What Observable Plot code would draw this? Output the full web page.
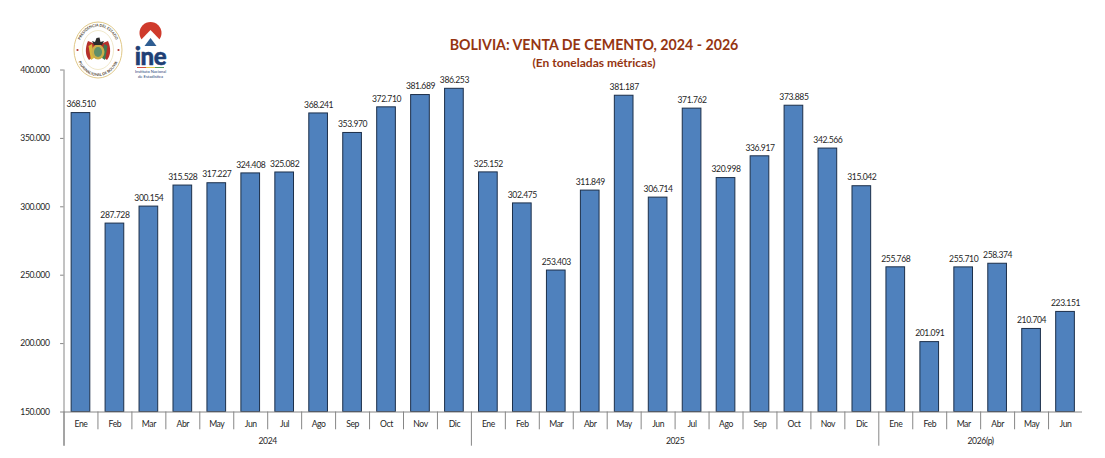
<!DOCTYPE html>
<html lang="es">
<head>
<meta charset="utf-8">
<script src="https://cdn.jsdelivr.net/npm/d3@7"></script>
<script src="https://cdn.jsdelivr.net/npm/@observablehq/plot@0.6"></script>
<style>
html,body{margin:0;padding:0;background:#fff;overflow:hidden}
#wrap{position:relative;width:1105px;height:458px;font-family:Lato,"Open Sans",sans-serif}
#chart svg{display:block}
#chart svg text{letter-spacing:-0.4px}
#title,#subtitle{position:absolute;left:294px;width:600px;text-align:center;color:#953511;font-weight:700;line-height:1;white-space:nowrap}
#title{top:38px;font-size:14.2px}
#subtitle{top:57px;font-size:12px}
#logos{position:absolute;left:0;top:0}
</style>
</head>
<body>
<div id="wrap">
<div id="chart"></div>
<div id="title">BOLIVIA: VENTA DE CEMENTO, 2024 - 2026</div>
<div id="subtitle">(En toneladas métricas)</div>
<svg id="logos" width="200" height="90" viewBox="0 0 200 90">
  <ellipse cx="98" cy="50" rx="24" ry="28" fill="#fff" stroke="#dcc27a" stroke-width="0.9"/>
  <ellipse cx="98" cy="50" rx="15.500" ry="19.500" fill="none" stroke="#e6d8a6" stroke-width="0.6"/>
  <path d="M98 45 L88 41 C85 48 85 55 89 60 L98 53 Z" fill="#b5302a"/>
  <path d="M98 45 L108 41 C111 48 111 55 107 60 L98 53 Z" fill="#b5302a"/>
  <path d="M88.500 46 L91 60 L94 58 L92 44 Z" fill="#d9b83e"/>
  <path d="M107.500 46 L105 60 L102 58 L104 44 Z" fill="#3f7a54"/>
  <ellipse cx="98" cy="52" rx="6.500" ry="7.500" fill="#c9ae4a"/>
  <ellipse cx="98" cy="52" rx="4" ry="5" fill="#5f8f6a"/>
  <path d="M92 41 L95 42 L96.500 38 L99.500 37.500 L100.500 42 L104 41 L102 45 L94 45 Z" fill="#2b2b2b"/>
  <circle cx="77.500" cy="50" r="1.100" fill="#b5332a"/><circle cx="118.500" cy="50" r="1.100" fill="#b5332a"/>
  <path id="arcTop" d="M78.500 50 A19.500 23.500 0 0 1 117.500 50" fill="none"/>
  <path id="arcBot" d="M76 50 A22 26 0 0 0 120 50" fill="none"/>
  <text font-size="3.700" fill="#4d4330" font-family="Lato" font-weight="700"><textPath href="#arcTop" startOffset="50%" text-anchor="middle">PRESIDENCIA DEL ESTADO</textPath></text>
  <text font-size="3.700" fill="#4d4330" font-family="Lato" font-weight="700"><textPath href="#arcBot" startOffset="50%" text-anchor="middle">PLURINACIONAL DE BOLIVIA</textPath></text>
  <circle cx="150.500" cy="33" r="11" fill="#cf3a2c"/>
  <path d="M150.500 30 L138 43 L138 48 L163 48 L163 43 Z" fill="#fff"/>
  <path d="M150.500 38 L144.500 46 L156.500 46 Z" fill="#2e5d92"/>
  <text x="150.500" y="64.500" text-anchor="middle" font-family="Lato" font-weight="900" font-size="24" letter-spacing="-0.4" stroke="#1f3f75" stroke-width="0.5" fill="#1f3f75">ine</text>
  <rect x="137" y="67" width="9" height="0.9" fill="#cf3a2c"/><rect x="146" y="67" width="9" height="0.9" fill="#e5c13a"/><rect x="155" y="67" width="9" height="0.9" fill="#3f8f4f"/>
  <text x="150.500" y="72.800" text-anchor="middle" font-family="Lato" font-size="4" fill="#1f3f75">Instituto Nacional</text>
  <text x="150.500" y="77.500" text-anchor="middle" font-family="Lato" font-size="4.200" fill="#1f3f75">de Estadística</text>
</svg>
</div>
<script>
const months = ["Ene","Feb","Mar","Abr","May","Jun","Jul","Ago","Sep","Oct","Nov","Dic",
                "Ene","Feb","Mar","Abr","May","Jun","Jul","Ago","Sep","Oct","Nov","Dic",
                "Ene","Feb","Mar","Abr","May","Jun"];
const values = [368510,287728,300154,315528,317227,324408,325082,368241,353970,372710,381689,386253,
                325152,302475,253403,311849,381187,306714,371762,320998,336917,373885,342566,315042,
                255768,201091,255710,258374,210704,223151];
const years = ["2024","2025","2026(p)"];
const yearStart = [0,12,24];
const yearEnd = [12,24,30];
const yTicks = [150000,200000,250000,300000,350000,400000];

const fmt = d => d3.format(",")(d).replace(/,/g,".");
const rows = months.map((m,i)=>({i,m,v:values[i]}));
const yearRows = years.map((y,k)=>({y,mid:(yearStart[k]+yearEnd[k])/2}));
const monthSeps = d3.range(1,30).filter(i=>!yearStart.includes(i));
const AXIS = "#868686", TXT = "#262626", FS = 8.6;
const BASE = 150000, MONTH_LOW = 137000, YEAR_LOW = 125000;

const chart = Plot.plot({
  width:1105, height:458,
  marginTop:69.5, marginBottom:46.5, marginLeft:63.5, marginRight:23,
  style:{fontFamily:"Lato, 'Open Sans', sans-serif", background:"#fff", overflow:"visible"},
  x:{domain:[0,30], axis:null},
  y:{domain:[BASE,400000], axis:null},
  marks:[
    Plot.rectY(rows,{x1:d=>d.i+0.225,x2:d=>d.i+0.775,y1:BASE,y2:"v",fill:"#4F81BD",stroke:"#1c2f4a",strokeWidth:1}),
    Plot.text(rows,{x:d=>d.i+0.5,y:"v",text:d=>fmt(d.v),dy:-8.5,fontSize:FS,fill:TXT}),
    Plot.ruleY([BASE],{stroke:AXIS,strokeWidth:1}),
    Plot.ruleX([0],{y1:YEAR_LOW,y2:400000,stroke:AXIS,strokeWidth:1}),
    Plot.ruleX(monthSeps,{y1:MONTH_LOW,y2:BASE,stroke:AXIS,strokeWidth:1}),
    Plot.ruleX(yearStart,{y1:YEAR_LOW,y2:BASE,stroke:AXIS,strokeWidth:1}),
    Plot.ruleY(yTicks,{x1:-0.1,x2:0,stroke:AXIS,strokeWidth:1}),
    Plot.text(yTicks,{x:0,y:d=>d,text:fmt,textAnchor:"end",dx:-14.5,fontSize:FS,fill:TXT}),
    Plot.text(rows,{x:d=>d.i+0.5,y:BASE,text:"m",dy:12.5,fontSize:FS,fill:TXT}),
    Plot.text(yearRows,{x:"mid",y:BASE,text:"y",dy:29.5,fontSize:FS,fill:TXT})
  ]
});
document.getElementById("chart").append(chart);
</script>
</body>
</html>
